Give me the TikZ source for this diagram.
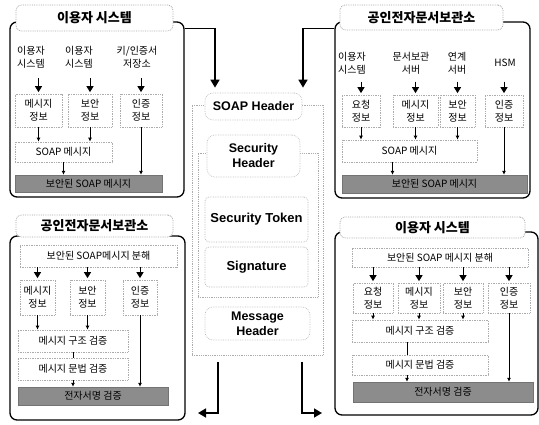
\documentclass[tikz,border=0pt]{standalone}
\usepackage{fontspec}
\setmainfont{Noto Sans CJK KR}
\newfontfamily\en{Liberation Sans}
\usetikzlibrary{arrows.meta}
\begin{document}
\begin{tikzpicture}[x=1pt,y=-1pt,
  panel/.style={draw=black, line width=1.3pt, rounded corners=7pt, inner sep=0pt},
  ttl/.style={draw=gray!70, densely dotted, line width=0.8pt, fill=white, rounded corners=5pt, font=\fontsize{13}{15}\selectfont\bfseries, inner sep=0pt},
  lab/.style={font=\fontsize{10}{13}\selectfont, align=center, inner sep=0pt},
  ibox/.style={draw=gray!65, densely dotted, line width=0.7pt, font=\fontsize{10}{13}\selectfont, align=center, inner sep=0pt},
  dbar/.style={fill=black!45, draw=black!55, font=\fontsize{10}{12}\selectfont, inner sep=0pt},
  tri/.style={-{Triangle[length=6pt,width=7pt]}, line width=1pt, shorten >=1.5pt},
  sarr/.style={-{Latex[length=4pt,width=4pt]}, line width=0.9pt},
  big/.style={-{Triangle[length=8pt,width=9pt]}, line width=1.6pt},
  cframe/.style={draw=gray!65, densely dotted, line width=0.8pt, inner sep=0pt},
  clab/.style={draw=gray!50, densely dotted, line width=0.7pt, fill=white, rounded corners=8pt, inner sep=0pt, align=center, font=\en\fontsize{12.5}{15}\selectfont\bfseries},
  cbox/.style={draw=gray!60, densely dotted, line width=0.7pt, rounded corners=4pt, inner sep=0pt, align=center, font=\en\fontsize{13}{15}\selectfont\bfseries}
]
\useasboundingbox (0,0) rectangle (539,424);

% ---------- top-left panel ----------
\node[panel, minimum width=174pt, minimum height=175pt] (tlP) at (97,109.5) {};
\node[ttl, minimum width=157pt, minimum height=26pt] (tlT) at (94.5,18) {이용자 시스템};
\node[lab] (tlL1) at (31,57) {이용자\\시스템};
\node[lab] (tlL2) at (79,57) {이용자\\시스템};
\node[lab] (tlL3) at (137,57) {키/인증서\\저장소};
\node[ibox, minimum width=47pt, minimum height=33pt] (tlB1) at (38.5,110.5) {메시지\\정보};
\node[ibox, minimum width=44pt, minimum height=33pt] (tlB2) at (90,110.5) {보안\\정보};
\node[ibox, minimum width=42pt, minimum height=33pt] (tlB3) at (141,110.5) {인증\\정보};
\node[ibox, minimum width=97pt, minimum height=20pt] (tlS) at (63.5,152) {SOAP 메시지};
\node[dbar, minimum width=147pt, minimum height=17pt] (tlD) at (88.5,183.5) {보안된 SOAP 메시지};
\foreach \l/\b in {tlL1/tlB1, tlL2/tlB2, tlL3/tlB3}
  \draw[tri] ([yshift=-10pt]\l.south -| \b) -- (\b.north);
\draw[sarr] (tlB1) -- (tlB1 |- tlS.north);
\draw[sarr] (tlB2) -- (tlB2 |- tlS.north);
\draw[sarr] (tlS) -- (tlS |- tlD.north);
\draw[sarr] (tlB3) -- (tlB3 |- tlD.north);

% ---------- top-right panel ----------
\node[panel, minimum width=195pt, minimum height=176pt] (trP) at (432.5,110) {};
\node[ttl, minimum width=163pt, minimum height=25pt] (trT) at (421.5,17.5) {공인전자문서보관소};
\node[lab] (trL1) at (352,63) {이용자\\시스템};
\node[lab] (trL2) at (411,63) {문서보관\\서버};
\node[lab] (trL3) at (457,63) {연계\\서버};
\node[lab] (trL4) at (505,63) {HSM};
\node[ibox, minimum width=38pt, minimum height=32pt] (trB1) at (361,111) {요청\\정보};
\node[ibox, minimum width=45pt, minimum height=32pt] (trB2) at (415.5,111) {메시지\\정보};
\node[ibox, minimum width=35pt, minimum height=32pt] (trB3) at (457.5,111) {보안\\정보};
\node[ibox, minimum width=38pt, minimum height=32pt] (trB4) at (504,111) {인증\\정보};
\node[ibox, minimum width=135pt, minimum height=22pt] (trS) at (409.5,151) {SOAP 메시지};
\node[dbar, minimum width=185pt, minimum height=18pt] (trD) at (434.5,184) {보안된 SOAP 메시지};
\foreach \b in {trB1, trB2, trB3, trB4}
  \draw[tri] ([yshift=13pt]\b.north) -- (\b.north);
\draw[sarr] (trB1) -- (trB1 |- trS.north);
\draw[sarr] (trB2) -- (trB2 |- trS.north);
\draw[sarr] (trB3) -- (trB3 |- trS.north);
\draw[sarr] ([xshift=-17pt]trS.south) -- ([xshift=-17pt]trS.south |- trD.north);
\draw[sarr] (trB4) -- (trB4 |- trD.north);

% ---------- bottom-left panel ----------
\node[panel, minimum width=175pt, minimum height=184pt] (blP) at (97.5,328) {};
\node[ttl, minimum width=157pt, minimum height=22pt] (blT) at (94.5,226) {공인전자문서보관소};
\node[ibox, minimum width=157pt, minimum height=22pt] (blS) at (98.5,256) {보안된 SOAP메시지 분해};
\node[ibox, minimum width=35pt, minimum height=35pt] (blB1) at (37.5,297.5) {메시지\\정보};
\node[ibox, minimum width=35pt, minimum height=35pt] (blB2) at (87.5,297.5) {보안\\정보};
\node[ibox, minimum width=34pt, minimum height=35pt] (blB3) at (140,297.5) {인증\\정보};
\node[ibox, minimum width=110pt, minimum height=22pt] (blK) at (73,341) {메시지 구조 검증};
\node[ibox, minimum width=110pt, minimum height=22pt] (blM) at (73,369) {메시지 문법 검증};
\node[dbar, minimum width=150pt, minimum height=18pt] (blD) at (93,396) {전자서명 검증};
\foreach \b in {blB1, blB2, blB3}
  \draw[tri] (blS.south -| \b) -- (\b.north);
\draw[sarr] (blB1) -- (blB1 |- blK.north);
\draw[sarr] (blB2) -- (blB2 |- blK.north);
\draw[line width=0.8pt] (blK) -- (blM);
\draw[sarr] (blM) -- (blM |- blD.north);
\draw[sarr] (blB3) -- (blB3 |- blD.north);

% ---------- bottom-right panel ----------
\node[panel, minimum width=203pt, minimum height=183pt] (brP) at (436.5,323.5) {};
\node[ttl, minimum width=185pt, minimum height=21pt] (brT) at (432.5,227.5) {이용자 시스템};
\node[ibox, minimum width=176pt, minimum height=19pt] (brS) at (440,257.5) {보안된 SOAP 메시지 분해};
\node[ibox, minimum width=40pt, minimum height=30pt] (brB1) at (373,298) {요청\\정보};
\node[ibox, minimum width=42pt, minimum height=30pt] (brB2) at (419,298) {메시지\\정보};
\node[ibox, minimum width=40pt, minimum height=30pt] (brB3) at (463,298) {보안\\정보};
\node[ibox, minimum width=42pt, minimum height=30pt] (brB4) at (509,298) {인증\\정보};
\node[ibox, minimum width=136pt, minimum height=22pt] (brK) at (420,331) {메시지 구조 검증};
\node[ibox, minimum width=136pt, minimum height=20pt] (brM) at (420,365) {메시지 문법 검증};
\node[dbar, minimum width=180pt, minimum height=20pt] (brD) at (443,392) {전자서명 검증};
\foreach \b in {brB1, brB2, brB3, brB4}
  \draw[tri] (brS.south -| \b) -- (\b.north);
\draw[sarr] (brB1) -- (brB1 |- brK.north);
\draw[sarr] (brB2) -- (brB2 |- brK.north);
\draw[sarr] (brB3) -- (brB3 |- brK.north);
\draw[line width=0.8pt] ([xshift=-13pt]brK.south) -- ([xshift=-13pt]brM.north);
\draw[sarr] ([xshift=-13pt]brM.south) -- ([xshift=-13pt]brM.south |- brD.north);
\draw[sarr] (brB4) -- (brB4 |- brD.north);

% ---------- centre ----------
\node[cframe, minimum width=131pt, minimum height=250pt] (outer) at (257.5,230) {};
\node[cframe, minimum width=120pt, minimum height=144pt] (inner) at (258,225) {};
\node[clab, minimum width=97pt, minimum height=27pt] (shL) at (253.5,106.5) {SOAP Header};
\node[clab, minimum width=93pt, minimum height=42pt] (secL) at (253.5,156) {Security\\Header};
\node[cbox, minimum width=103pt, minimum height=45pt] (tok) at (256.5,219.5) {Security Token};
\node[cbox, minimum width=103pt, minimum height=40pt] (sig) at (256.5,267) {Signature};
\node[clab, minimum width=105pt, minimum height=33pt] (msg) at (257.5,323.5) {Message\\Header};

\coordinate (blIn) at (198,413);
\coordinate (brIn) at (322,413);
\draw[big] ([yshift=-7pt]tlP.north east) -| ([xshift=-38.5pt,yshift=5pt]shL.north);
\draw[big] ([yshift=-7pt]trP.north west) -| ([xshift=49.5pt,yshift=5pt]shL.north);
\draw[big] ([xshift=-39.5pt,yshift=-7pt]outer.south) |- (blIn);
\draw[big] ([xshift=44.5pt,yshift=-7pt]outer.south) |- (brIn);
\end{tikzpicture}
\end{document}
